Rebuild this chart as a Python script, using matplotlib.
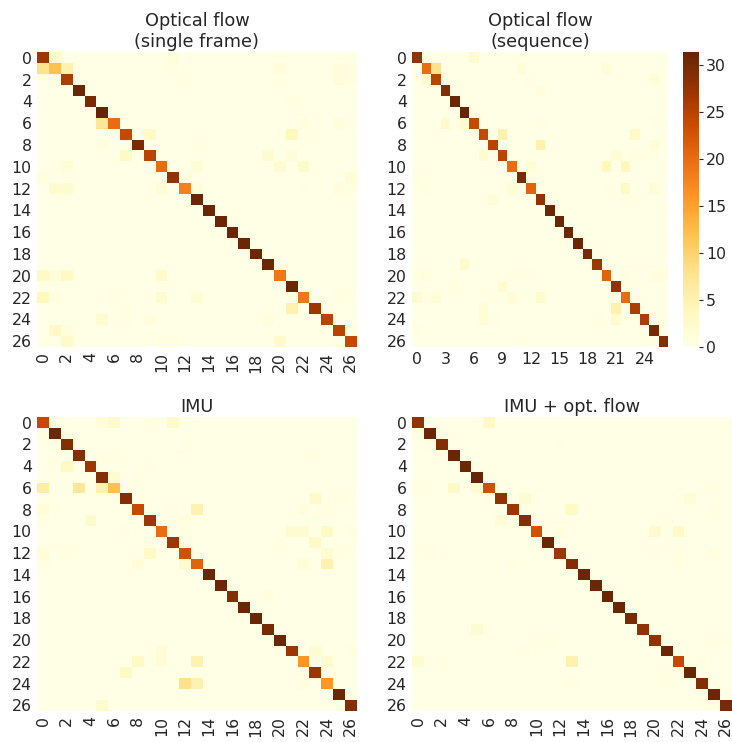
import numpy as np
import matplotlib
matplotlib.use("Agg")
import matplotlib.pyplot as plt

# ---------------- data ----------------
n_classes = 27
vmin, vmax = 0, 31.4

titles = ["Optical flow\n(single frame)", "Optical flow\n(sequence)", "IMU", "IMU + opt. flow"]

diag_of_single = [27, 12, 26, 31, 30, 32, 20, 24, 30, 25, 20, 28, 18, 31, 31, 31, 31, 31, 31, 31,
                  19, 31, 19, 27, 25, 25, 24]
off_of_single = [(0, 1, 2), (0, 11, 1), (1, 0, 8), (1, 2, 5), (1, 11, 0.5), (1, 20, 1.2), (1, 25, 1.2),
                 (1, 26, 0.5), (2, 1, 0.5), (2, 12, 0.5), (2, 20, 0.5), (2, 25, 1.2), (2, 26, 0.5),
                 (4, 21, 0.5), (6, 5, 7), (6, 22, 1), (6, 25, 1), (7, 9, 3), (7, 21, 4), (7, 23, 0.5),
                 (8, 5, 1), (8, 13, 0.5), (9, 7, 3), (9, 19, 2), (9, 21, 1.2), (10, 2, 1.5),
                 (10, 13, 1.5), (10, 20, 2), (10, 22, 2.5), (11, 0, 1), (11, 26, 1.5), (12, 1, 2),
                 (12, 2, 2), (12, 10, 1.5), (12, 13, 1), (12, 22, 0.5), (12, 25, 1), (12, 26, 0.5),
                 (20, 0, 3), (20, 1, 1.5), (20, 2, 3), (20, 10, 2.5), (22, 0, 4), (22, 1, 0.5),
                 (22, 6, 0.5), (22, 10, 2), (22, 13, 1.5), (22, 25, 0.5), (23, 7, 0.5), (23, 21, 5),
                 (24, 5, 2), (24, 7, 0.5), (24, 9, 1), (24, 19, 1), (25, 1, 3), (25, 2, 1),
                 (25, 26, 0.5), (26, 2, 2.5), (26, 10, 0.5), (26, 11, 0.5), (26, 20, 2.5), (26, 25, 0.5)]

diag_of_seq = [28, 20, 25, 29, 31, 32, 24, 24, 25, 25, 20, 30, 21, 28, 31, 31, 31, 31, 30, 27,
               21, 28, 20, 26, 26, 30, 29]
off_of_seq = [(0, 6, 2), (1, 2, 8), (1, 11, 1.5), (1, 20, 1.5), (2, 1, 2), (2, 12, 0.5), (2, 25, 1.5),
              (3, 13, 1), (6, 3, 2.5), (6, 5, 2), (6, 13, 0.5), (6, 25, 0.5), (7, 9, 5), (7, 23, 3),
              (8, 13, 5), (8, 25, 1.5), (9, 7, 2), (9, 21, 1.5), (9, 23, 0.5), (9, 24, 0.5),
              (10, 12, 1.5), (10, 20, 4), (10, 22, 4), (11, 0, 0.5), (12, 1, 0.5), (12, 10, 1.5),
              (12, 20, 0.5), (12, 22, 3), (12, 25, 1.5), (13, 8, 1.5), (13, 22, 0.5), (19, 5, 2.5),
              (20, 0, 0.5), (20, 1, 1), (20, 10, 0.5), (20, 11, 0.5), (20, 12, 0.5), (20, 22, 1),
              (20, 25, 1), (20, 26, 1), (21, 4, 0.5), (21, 9, 2), (21, 23, 0.5), (22, 0, 2),
              (22, 1, 0.5), (22, 2, 1.5), (22, 8, 0.5), (22, 10, 1.5), (22, 13, 2.5), (23, 7, 1.5),
              (23, 21, 5), (24, 7, 1.5), (24, 8, 0.5), (24, 19, 0.5), (24, 21, 2), (25, 0, 0.5),
              (26, 11, 0.5), (26, 25, 0.5)]

diag_imu = [24, 31, 29, 29, 27, 29, 12, 29, 24, 27, 20, 27, 23, 21, 31, 31, 29, 31, 31, 30,
            31, 27, 16, 27, 16, 31, 29]
off_imu = [(0, 5, 1.5), (0, 6, 2.5), (0, 9, 0.5), (0, 11, 2.5), (1, 0, 0.5), (2, 1, 0.5), (2, 12, 0.5),
           (3, 5, 0.5), (3, 6, 0.5), (3, 23, 0.5), (4, 2, 3), (4, 9, 0.5), (5, 6, 2), (5, 8, 0.5),
           (6, 0, 6), (6, 3, 7), (6, 5, 5), (6, 7, 0.5), (7, 23, 2.5), (7, 25, 0.5), (8, 0, 1.5),
           (8, 11, 0.5), (8, 13, 5), (8, 22, 1), (8, 24, 0.5), (9, 0, 0.5), (9, 4, 2.5), (9, 12, 1),
           (10, 7, 0.5), (10, 12, 0.5), (10, 21, 2), (10, 22, 2), (10, 24, 3), (10, 26, 0.5),
           (11, 9, 0.5), (11, 20, 0.5), (11, 23, 3), (12, 0, 1.5), (12, 2, 0.5), (12, 9, 3),
           (12, 24, 2), (12, 25, 0.5), (13, 0, 0.5), (13, 8, 1.5), (13, 12, 2), (13, 22, 1.5),
           (13, 24, 5), (16, 19, 1), (21, 10, 1.5), (21, 23, 2), (21, 26, 0.5), (22, 8, 3),
           (22, 10, 1.5), (22, 13, 5), (22, 24, 2), (23, 7, 3), (24, 12, 8), (24, 13, 5),
           (24, 22, 1), (26, 5, 2)]

diag_imu_of = [28, 31, 29, 31, 31, 32, 23, 28, 27, 29, 23, 31, 27, 29, 31, 31, 31, 31, 30, 28,
               28, 31, 24, 31, 29, 31, 30]
off_imu_of = [(0, 6, 3), (1, 0, 0.5), (2, 1, 0.5), (2, 12, 0.5), (6, 0, 0.5), (6, 3, 3), (6, 5, 2),
              (6, 25, 0.5), (7, 9, 2), (7, 23, 1.5), (8, 13, 3), (8, 25, 0.5), (9, 7, 1.5),
              (9, 21, 0.5), (10, 12, 1), (10, 20, 2.5), (10, 22, 3), (12, 1, 0.5), (12, 20, 0.5),
              (12, 22, 0.5), (12, 25, 1), (13, 8, 0.5), (13, 22, 0.5), (19, 5, 2), (20, 10, 0.5),
              (20, 11, 0.5), (20, 25, 0.5), (20, 26, 0.5), (21, 9, 0.5), (22, 0, 2), (22, 2, 0.5),
              (22, 13, 5), (22, 24, 0.5), (23, 21, 0.5), (24, 13, 0.5), (24, 21, 0.5), (26, 25, 0.5)]

panels_diag = [diag_of_single, diag_of_seq, diag_imu, diag_imu_of]
panels_off = [off_of_single, off_of_seq, off_imu, off_imu_of]

y_tick_labels = list(range(0, 27, 2))
x_tick_labels_std = list(range(0, 27, 2))
x_tick_labels_seq = list(range(0, 25, 3))
colorbar_ticks = [0, 5, 10, 15, 20, 25, 30]


def build(diag, off):
    m = np.zeros((n_classes, n_classes))
    m[np.arange(n_classes), np.arange(n_classes)] = diag
    for r, c, v in off:
        m[r, c] = v
    return m


# ---------------- figure ----------------
plt.rcParams["font.family"] = ["DejaVu Sans"]
W, H = 732, 742
fig = plt.figure(figsize=(W / 100, H / 100), dpi=100)
txt = "#262626"
tick_fs = 11.3
title_fs = 12.8


def px_axes(x0, y0, x1, y1):
    return fig.add_axes([x0 / W, 1 - y1 / H, (x1 - x0) / W, (y1 - y0) / H])


boxes = [(37.3, 52.3, 356.7, 346.7), (412.3, 52.3, 668.3, 346.7),
         (37.3, 417.3, 356.7, 710.7), (412.3, 417.3, 731.7, 710.7)]

cmap = plt.get_cmap("YlOrBr")
mesh_ref = None
for i in range(4):
    ax = px_axes(*boxes[i])
    m = build(panels_diag[i], panels_off[i])
    mesh = ax.pcolormesh(np.arange(n_classes + 1), np.arange(n_classes + 1), m,
                         cmap=cmap, vmin=vmin, vmax=vmax, edgecolors="none")
    if i == 1:
        mesh_ref = mesh
    ax.set_xlim(0, n_classes)
    ax.set_ylim(n_classes, 0)
    for s in ax.spines.values():
        s.set_visible(False)
    ax.set_yticks([v + 0.5 for v in y_tick_labels])
    ax.set_yticklabels([str(v) for v in y_tick_labels], rotation=0)
    if i == 1:
        ax.set_xticks([v + 0.5 for v in x_tick_labels_seq])
        ax.set_xticklabels([str(v) for v in x_tick_labels_seq], rotation=0)
    else:
        ax.set_xticks([v + 0.5 for v in x_tick_labels_std])
        ax.set_xticklabels([str(v) for v in x_tick_labels_std], rotation=90)
    ax.tick_params(length=0, labelsize=tick_fs, colors=txt, pad=4)
    ax.set_title(titles[i], fontsize=title_fs, color=txt, pad=4, linespacing=1.2)

cax = px_axes(682.7, 52.3, 699.0, 346.7)
cb = fig.colorbar(mesh_ref, cax=cax)
cb.outline.set_visible(False)
cb.set_ticks(colorbar_ticks)
cb.ax.tick_params(length=3, width=0.8, labelsize=tick_fs, colors=txt, pad=2)

fig.savefig("out.png", dpi=100)
